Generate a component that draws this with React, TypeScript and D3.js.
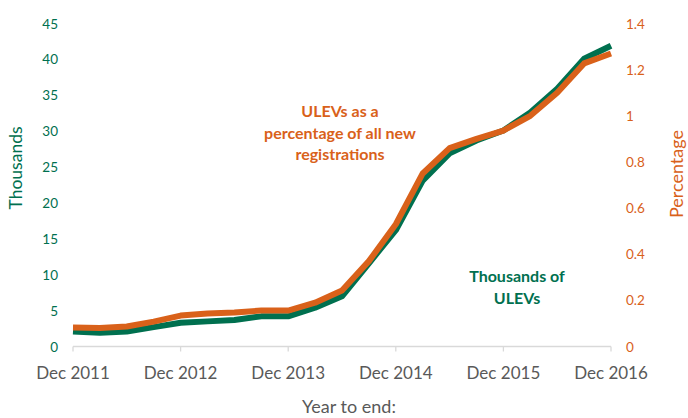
import React from 'react';
import * as d3 from 'd3';

// quarters from Dec 2011 to Dec 2016
const quarterIndex = d3.range(0, 21);
const yearLabels = ['Dec 2011', 'Dec 2012', 'Dec 2013', 'Dec 2014', 'Dec 2015', 'Dec 2016'];
const thousands = [2.1, 1.9, 2.1, 2.7, 3.3, 3.5, 3.7, 4.2, 4.2, 5.4, 7.0, 11.6, 16.2, 23.1, 26.9, 28.7, 30.1, 32.6, 35.9, 40.1, 41.9];
const percentage = [0.082, 0.08, 0.087, 0.108, 0.134, 0.143, 0.147, 0.156, 0.156, 0.19, 0.243, 0.37, 0.53, 0.75, 0.86, 0.9, 0.936, 1.0, 1.1, 1.227, 1.27];
const leftTicks = [0, 5, 10, 15, 20, 25, 30, 35, 40, 45];
const rightTicks = [0, 0.2, 0.4, 0.6, 0.8, 1, 1.2, 1.4];

const W = 688;
const H = 418;
const GREEN = '#00704f';
const ORANGE = '#d9611a';
const GREY = '#595959';
const FONT = 'Lato, "Open Sans", sans-serif';

export default function App() {
  const x = d3.scaleLinear().domain([0, 20]).range([73, 611]);
  const yL = d3.scaleLinear().domain([0, 45]).range([346.5, 23.5]);
  const yR = d3.scaleLinear().domain([0, 1.4]).range([346.5, 23.5]);

  const lineL = d3.line<number>().x((d, i) => x(quarterIndex[i])).y(d => yL(d));
  const lineR = d3.line<number>().x((d, i) => x(quarterIndex[i])).y(d => yR(d));

  const baseY = yL(0);

  return (
    <svg width={W} height={H} style={{ position: 'absolute', left: 0, top: 0 }} fontFamily={FONT}>
      <rect width={W} height={H} fill="#fff" />

      {/* x axis */}
      <line x1={x(0)} x2={x(20)} y1={baseY} y2={baseY} stroke="#d9d9d9" strokeWidth={1.3} />
      {yearLabels.map((lab, i) => (
        <g key={lab}>
          <line x1={x(i * 4)} x2={x(i * 4)} y1={baseY} y2={baseY + 5} stroke="#d9d9d9" strokeWidth={1.3} />
          <text x={x(i * 4)} y={baseY + 32} textAnchor="middle" fontSize={17} fill={GREY}>{lab}</text>
        </g>
      ))}
      <text x={349} y={413} textAnchor="middle" fontSize={18} fill={GREY}>Year to end:</text>

      {/* left axis */}
      {leftTicks.map(t => (
        <text key={t} x={58} y={yL(t) + 5} textAnchor="end" fontSize={13.5} fill={GREEN}>{t}</text>
      ))}
      <text transform={`translate(22,168) rotate(-90)`} textAnchor="middle" fontSize={17.5} fill={GREEN}>Thousands</text>

      {/* right axis */}
      {rightTicks.map(t => (
        <text key={t} x={626} y={yR(t) + 5} textAnchor="start" fontSize={13.5} fill={ORANGE}>{t}</text>
      ))}
      <text transform={`translate(683,174) rotate(-90)`} textAnchor="middle" fontSize={18} fill={ORANGE}>Percentage</text>

      {/* series */}
      <path d={lineL(thousands) ?? ''} fill="none" stroke={GREEN} strokeWidth={6} strokeLinejoin="round" />
      <path d={lineR(percentage) ?? ''} fill="none" stroke={ORANGE} strokeWidth={6} strokeLinejoin="round" />

      {/* annotations */}
      <text x={340} textAnchor="middle" fontSize={16} fontWeight="bold" fill={ORANGE}>
        <tspan x={340} y={117}>ULEVs as a</tspan>
        <tspan x={340} y={139}>percentage  of all new</tspan>
        <tspan x={340} y={160}>registrations</tspan>
      </text>
      <text x={517} textAnchor="middle" fontSize={16} fontWeight="bold" fill={GREEN}>
        <tspan x={517} y={282}>Thousands  of</tspan>
        <tspan x={517} y={304}>ULEVs</tspan>
      </text>
    </svg>
  );
}
